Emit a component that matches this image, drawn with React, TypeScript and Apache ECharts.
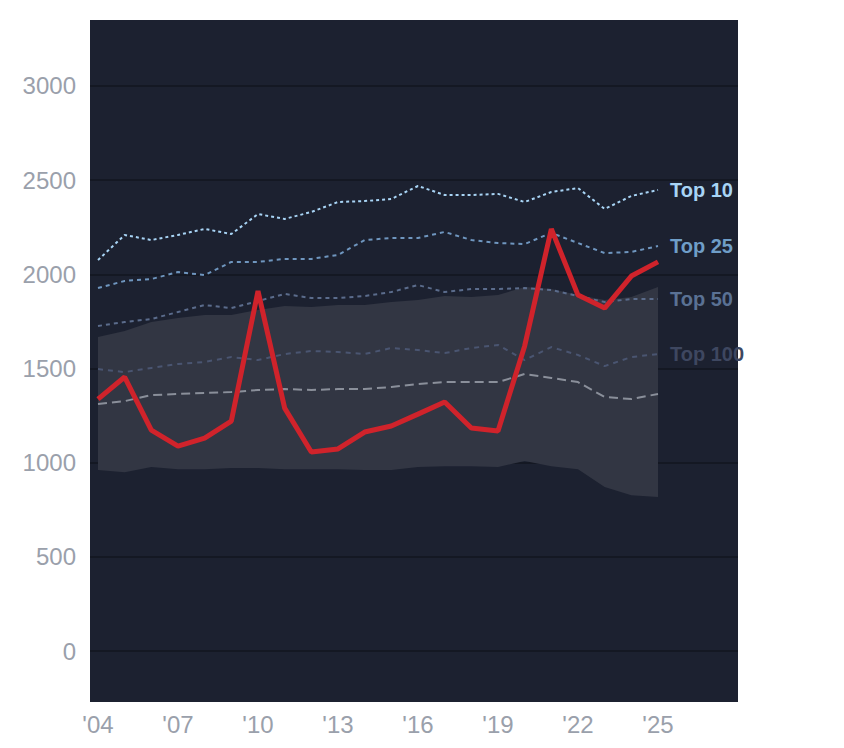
import { useEffect, useRef } from "react";
import * as echarts from "echarts";

const years = [2004, 2005, 2006, 2007, 2008, 2009, 2010, 2011, 2012, 2013, 2014, 2015, 2016, 2017, 2018, 2019, 2020, 2021, 2022, 2023, 2024, 2025];
const player = [1338, 1455, 1173, 1088, 1131, 1221, 1911, 1290, 1057, 1073, 1163, 1195, 1258, 1322, 1184, 1168, 1620, 2241, 1890, 1821, 1991, 2066];
const top10 = [2076, 2209, 2182, 2209, 2241, 2214, 2320, 2294, 2331, 2384, 2389, 2400, 2469, 2421, 2421, 2427, 2384, 2437, 2458, 2347, 2416, 2448];
const top25 = [1927, 1965, 1975, 2012, 1996, 2066, 2066, 2082, 2082, 2103, 2182, 2193, 2193, 2225, 2182, 2166, 2161, 2220, 2166, 2113, 2119, 2150];
const top50 = [1726, 1747, 1763, 1800, 1837, 1821, 1858, 1896, 1874, 1874, 1885, 1906, 1943, 1906, 1922, 1922, 1927, 1917, 1885, 1853, 1869, 1869];
const top100 = [1497, 1481, 1503, 1524, 1535, 1561, 1545, 1577, 1593, 1588, 1577, 1609, 1598, 1582, 1609, 1625, 1545, 1614, 1572, 1513, 1561, 1577];
const median = [1312, 1327, 1359, 1365, 1370, 1375, 1386, 1391, 1386, 1391, 1391, 1402, 1418, 1428, 1428, 1428, 1471, 1450, 1428, 1349, 1338, 1365];
const bandUpper = [1667, 1699, 1747, 1768, 1784, 1784, 1811, 1832, 1827, 1837, 1837, 1853, 1864, 1885, 1880, 1890, 1933, 1922, 1890, 1864, 1880, 1933];
const bandLower = [961, 950, 977, 966, 966, 972, 972, 966, 966, 966, 961, 961, 977, 982, 982, 977, 1009, 982, 966, 871, 828, 818];
const xTicks = [2004, 2007, 2010, 2013, 2016, 2019, 2022, 2025];
const yTicks = [0, 500, 1000, 1500, 2000, 2500, 3000];

const pairs = (vals: number[]) => years.map((y, i) => [y, vals[i]]);
const FONT = "Liberation Sans";

function refLine(name: string, vals: number[], color: string, dash: number[], labelColor?: string) {
  return {
    name,
    type: "line",
    data: pairs(vals),
    showSymbol: false,
    lineStyle: { color, width: 2, type: dash },
    endLabel: labelColor
      ? { show: true, formatter: name, color: labelColor, fontSize: 20, fontWeight: "bold", distance: 12, fontFamily: FONT }
      : { show: false },
    z: 3,
  };
}

export default function App() {
  const ref = useRef<HTMLDivElement>(null);

  useEffect(() => {
    document.body.style.margin = "0";
    if (!ref.current) return;
    const chart = echarts.init(ref.current, null, { renderer: "svg" });
    chart.setOption({
      animation: false,
      grid: { left: 90, right: 106, top: 20, bottom: 46, show: true, backgroundColor: "#1c2130", borderWidth: 0 },
      xAxis: {
        type: "value",
        min: 2003.7,
        max: 2028,
        axisLine: { show: false },
        axisTick: { show: false },
        splitLine: { show: false },
        axisLabel: {
          customValues: xTicks,
          formatter: (v: number) => "'" + String(v).slice(2),
          color: "#9aa0ab",
          fontSize: 24,
          fontFamily: FONT,
          margin: 10,
        },
      },
      yAxis: {
        type: "value",
        min: -270,
        max: 3350,
        axisLine: { show: false },
        axisTick: { show: false, customValues: yTicks },
        splitLine: { show: true, lineStyle: { color: "#141823", width: 2 } },
        axisLabel: {
          customValues: yTicks,
          formatter: (v: number) => String(v),
          color: "#9aa0ab",
          fontSize: 24,
          fontFamily: FONT,
          margin: 14,
        },
      },
      series: [
        {
          type: "custom",
          data: [0],
          z: 1,
          renderItem: (_params: any, api: any) => {
            const top = years.map((y, i) => api.coord([y, bandUpper[i]]));
            const bottom = years.map((y, i) => api.coord([y, bandLower[i]])).reverse();
            return {
              type: "polygon",
              shape: { points: top.concat(bottom) },
              style: { fill: "#323643" },
            };
          },
        },
        refLine("Top 10", top10, "#a8d4f5", [3, 3], "#a8d4f5"),
        refLine("Top 25", top25, "#6f96bf", [4, 4], "#6f9ec8"),
        refLine("Top 50", top50, "#5b6c8c", [4, 4], "#5a7194"),
        refLine("Top 100", top100, "#4a5571", [5, 5], "#3e4760"),
        refLine("Median", median, "#8a8f9a", [9, 5]),
        {
          name: "Player",
          type: "line",
          data: pairs(player),
          showSymbol: false,
          lineStyle: { color: "#d0232b", width: 5 },
          z: 5,
        },
      ],
    });
    return () => chart.dispose();
  }, []);

  return <div ref={ref} style={{ width: 844, height: 748 }} />;
}
